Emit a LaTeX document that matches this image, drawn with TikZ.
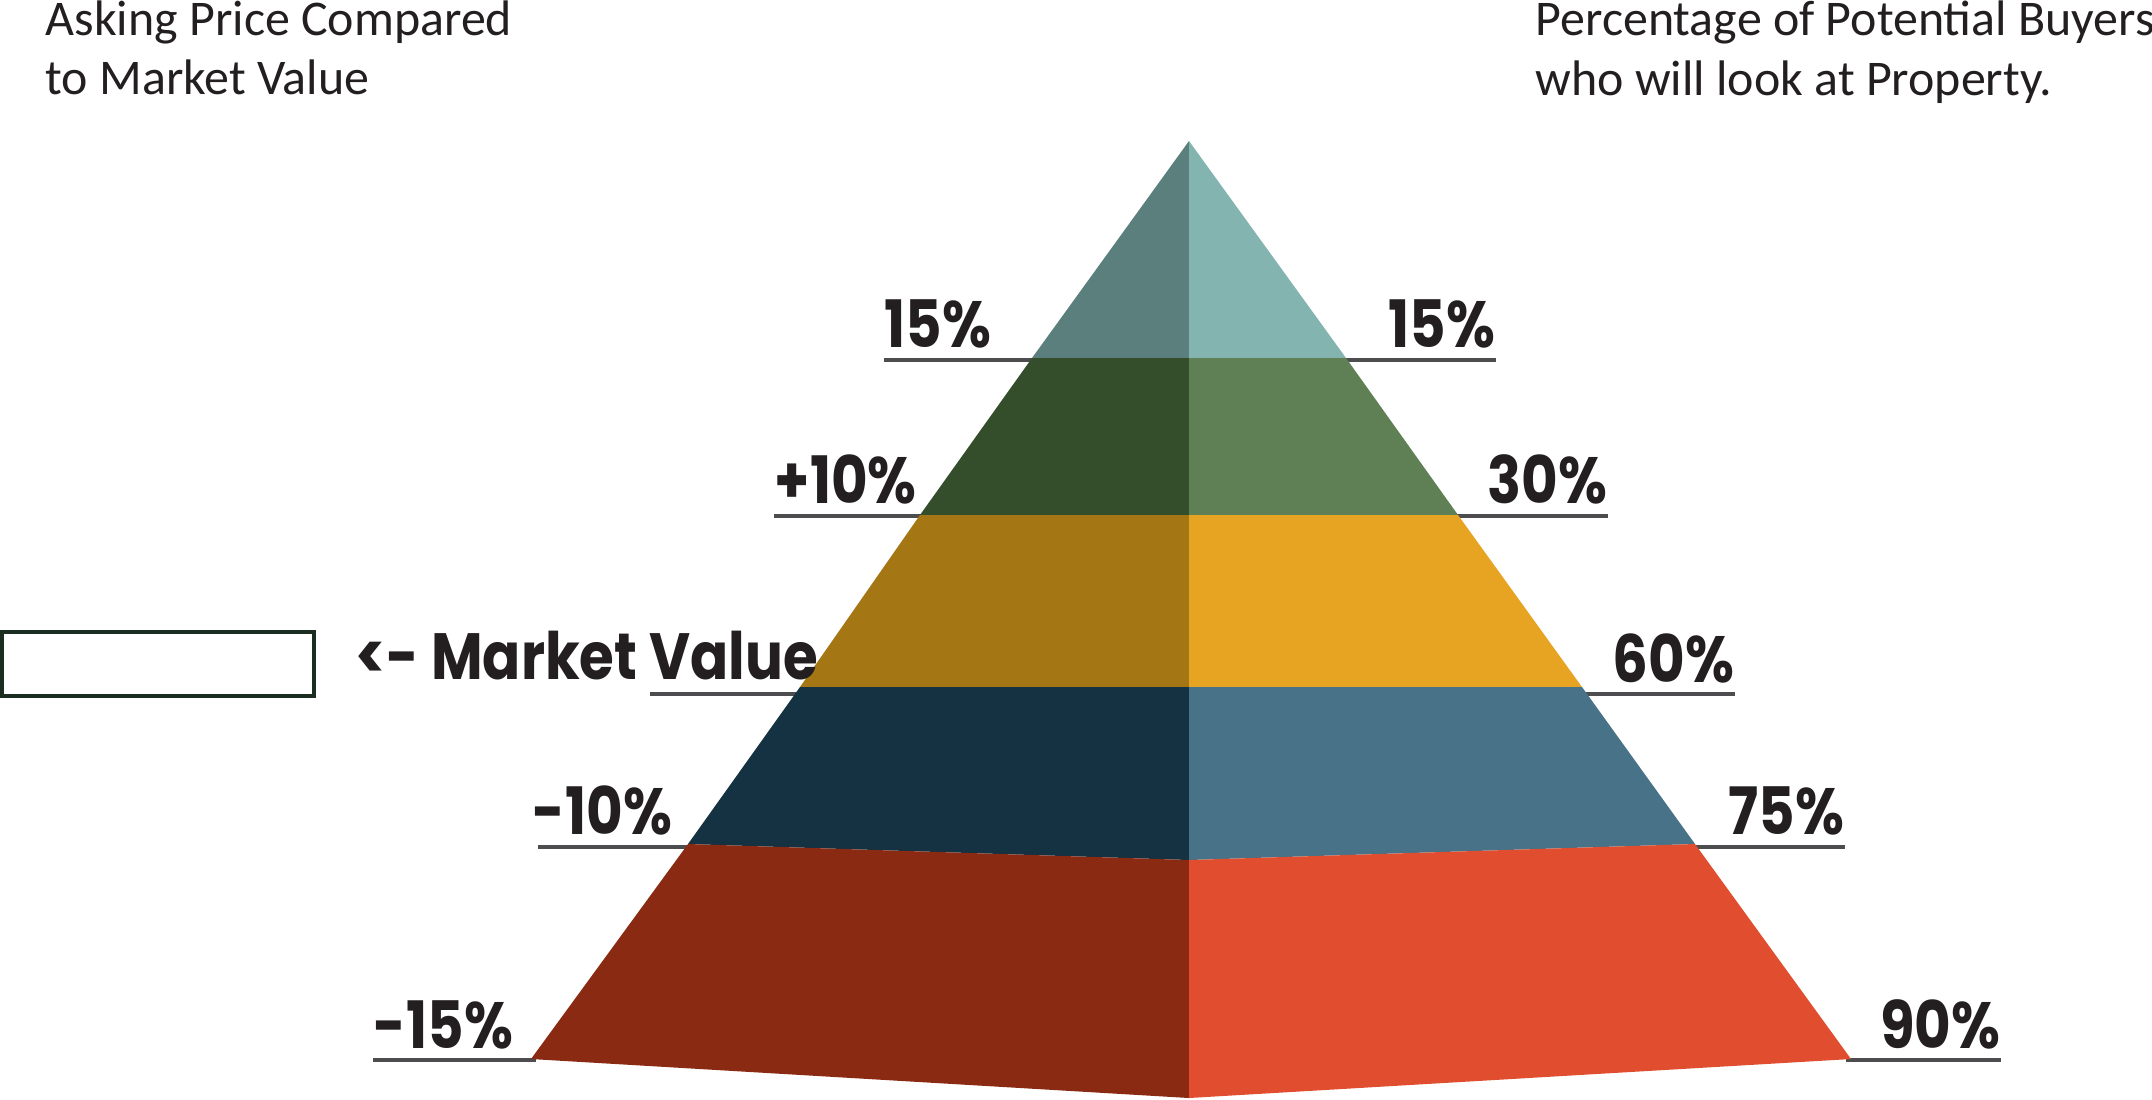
\documentclass[tikz,border=0pt]{standalone}
\usepackage{fontspec}
\setmainfont{Carlito}
\newfontfamily\pctfont{Poppins}[FakeStretch=0.86]
\usepackage{tikz}
\usetikzlibrary{positioning}
\definecolor{inkblack}{RGB}{35,31,32}
\definecolor{rulegray}{RGB}{77,77,79}
\definecolor{boxgreen}{RGB}{28,46,31}
\definecolor{tealdark}{RGB}{91,127,124}
\definecolor{teallight}{RGB}{131,180,176}
\definecolor{mossdark}{RGB}{52,78,44}
\definecolor{mosslight}{RGB}{95,128,85}
\definecolor{ochredark}{RGB}{165,118,20}
\definecolor{ochrelight}{RGB}{231,164,35}
\definecolor{navydark}{RGB}{20,50,66}
\definecolor{navylight}{RGB}{71,114,135}
\definecolor{rustdark}{RGB}{138,42,19}
\definecolor{rustlight}{RGB}{224,78,47}

\begin{document}
\begin{tikzpicture}[x=0.01cm, y=-0.01cm]
		% Styles
		\tikzset{head/.style={font=\fontsize{14.2}{17}\selectfont, text=inkblack, inner sep=0, anchor=base west}}
		\tikzset{pct/.style={font=\pctfont\bfseries\fontsize{18.6}{20}\selectfont, text=inkblack, inner sep=0}}
		\tikzset{rule/.style={draw=rulegray, line width=0.04cm}}
		
		\useasboundingbox (0,0) rectangle (2152,1099);
		
		% Headings
		\node[head] (askA) at (45,35) {Asking Price Compared};
		\node[head] (askB) at (45,94) {to Market Value};
		\node[head] (buyA) at (1535,35) {Percentage of Potential Buyers};
		\node[head] (buyB) at (1535,95) {who will look at Property.};
		
		% Underlines (behind the pyramid)
		\draw[rule] (884,360) -- (1040,360);
		\draw[rule] (774,516) -- (928,516);
		\draw[rule] (650,694) -- (808,694);
		\draw[rule] (538,847) -- (695,847);
		\draw[rule] (373,1060) -- (536,1060);
		\draw[rule] (1338,360) -- (1496,360);
		\draw[rule] (1450,516) -- (1608,516);
		\draw[rule] (1575,694) -- (1735,694);
		\draw[rule] (1688,847) -- (1845,847);
		\draw[rule] (1846,1060) -- (2001,1060);
		
		% --- Pyramid, left and right faces ---
		\fill[tealdark]   (1189,141) -- (1032,358) -- (1189,358) -- cycle;
		\fill[teallight]  (1189,141) -- (1346,358) -- (1189,358) -- cycle;
		\fill[mossdark]   (1032,358) -- (1189,358) -- (1189,515) -- (920,515) -- cycle;
		\fill[mosslight]  (1189,358) -- (1346,358) -- (1458,515) -- (1189,515) -- cycle;
		\fill[ochredark]  (920,515) -- (1189,515) -- (1189,687) -- (800,687) -- cycle;
		\fill[ochrelight] (1189,515) -- (1458,515) -- (1582,687) -- (1189,687) -- cycle;
		\fill[navydark]   (800,687) -- (1189,687) -- (1189,860) -- (688,844) -- cycle;
		\fill[navylight]  (1189,687) -- (1582,687) -- (1695,844) -- (1189,860) -- cycle;
		\fill[rustdark]   (688,844) -- (1189,860) -- (1189,1098) -- (531,1059) -- cycle;
		\fill[rustlight]  (1189,860) -- (1695,844) -- (1851,1059) -- (1189,1098) -- cycle;
		
		% Asking price labels
		\node[pct, anchor=base west] (askT) at (884,347) {15\%};
		\node[pct, anchor=base west] (askP) at (774,503) {+10\%};
		\node[pct, anchor=base west] (askM) at (355,679) {<- Market Value};
		\node[pct, anchor=base west] (askN) at (532,834) {-10\%};
		\node[pct, anchor=base west] (askL) at (373,1048) {-15\%};
		
		% Buyer labels
		\node[pct, anchor=base east] (buyT) at (1496,347) {15\%};
		\node[pct, anchor=base east] (buyP) at (1608,503) {30\%};
		\node[pct, anchor=base east] (buyM) at (1735,682) {60\%};
		\node[pct, anchor=base east] (buyN) at (1845,834) {75\%};
		\node[pct, anchor=base east] (buyL) at (2001,1048) {90\%};
		
		% Empty value box
		\draw[boxgreen, line width=0.04cm] (2,632) rectangle (314,696);
	\end{tikzpicture}
\end{document}
